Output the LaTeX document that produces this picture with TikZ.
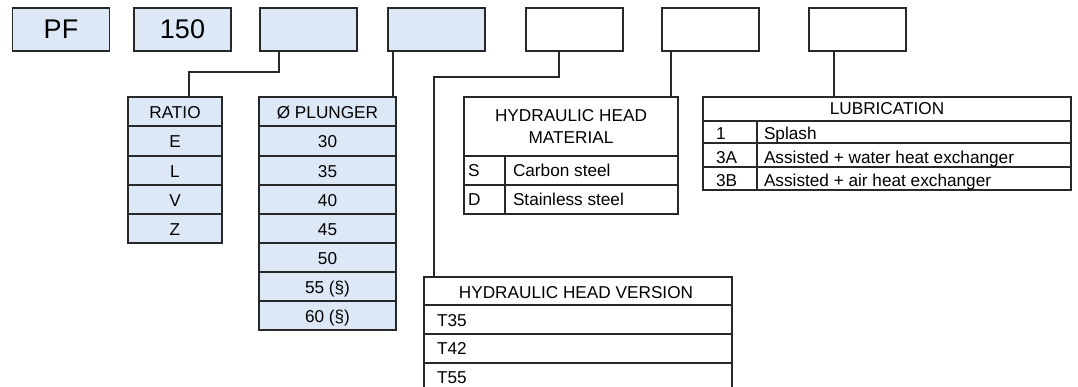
\documentclass[tikz,border=0pt]{standalone}
\usepackage{fontspec}
\setmainfont{Liberation Sans}
\definecolor{lb}{RGB}{221,232,246}
\definecolor{ln}{RGB}{40,40,40}
\begin{document}
\begin{tikzpicture}[x=1pt,y=-1pt,
  font=\fontsize{17.2}{20}\selectfont,
  every node/.style={inner sep=0pt, outer sep=0pt},
  frame/.style={draw=ln, line width=1.1pt},
  topbox/.style={frame, minimum width=97pt, minimum height=43pt, font=\fontsize{27}{31}\selectfont},
  conn/.style={draw=ln, line width=1.1pt},
  txt/.style={anchor=base},
  txtl/.style={anchor=base west}]
\useasboundingbox (0,0) rectangle (1078,387);

% top code boxes
\node[topbox, fill=lb] (b1) at (61,29.5) {PF};
\node[topbox, fill=lb] (b2) at (182.5,29.5) {150};
\node[topbox, fill=lb] (b3) at (308.5,29.5) {};
\node[topbox, fill=lb] (b4) at (436.5,29.5) {};
\node[topbox] (b5) at (574.5,29.5) {};
\node[topbox] (b6) at (710.5,29.5) {};
\node[topbox] (b7) at (857.5,29.5) {};

% RATIO table
\draw[frame, fill=lb] (128,97) rectangle (222,243);
\foreach \y in {126,156,185,214} \draw[frame] (128,\y) -- (222,\y);
\node[txt] (ratio) at (175,119) {RATIO};
\node[txt] (rE) at (175,148) {E};
\node[txt] (rL) at (175,177.5) {L};
\node[txt] (rV) at (175,206.5) {V};
\node[txt] (rZ) at (175,235.5) {Z};
\coordinate (ratiotop) at (189,97);

% PLUNGER table
\draw[frame, fill=lb] (259,97) rectangle (396,330);
\foreach \y in {126,156,185,214,243,272,301} \draw[frame] (259,\y) -- (396,\y);
\node[txt] (plunger) at (327.5,119) {Ø PLUNGER};
\node[txt] (p30) at (327.5,148) {30};
\node[txt] (p35) at (327.5,177.5) {35};
\node[txt] (p40) at (327.5,206.5) {40};
\node[txt] (p45) at (327.5,235.5) {45};
\node[txt] (p50) at (327.5,264.5) {50};
\node[txt] (p55) at (327.5,293.5) {55 (§)};
\node[txt] (p60) at (327.5,322.5) {60 (§)};
\coordinate (plungertop) at (393,97);

% MATERIAL table
\draw[frame] (464,97) rectangle (678,214);
\draw[frame] (464,156) -- (678,156);
\draw[frame] (464,185) -- (678,185);
\draw[frame] (505,156) -- (505,214);
\node[txt] (mat1) at (571,122) {HYDRAULIC HEAD};
\node[txt] (mat2) at (571,144) {MATERIAL};
\node[txtl] (mS) at (468,177) {S};
\node[txtl] (mSd) at (513,177) {Carbon steel};
\node[txtl] (mD) at (468,206) {D};
\node[txtl] (mDd) at (513,206) {Stainless steel};
\coordinate (mattop) at (671,97);

% LUBRICATION table
\draw[frame] (703,97) rectangle (1071,190);
\foreach \y in {121,143,167} \draw[frame] (703,\y) -- (1071,\y);
\draw[frame] (757,121) -- (757,190);
\node[txt] (lub) at (887,115) {LUBRICATION};
\node[txtl] (l1) at (716,140) {1};
\node[txtl] (l1d) at (764,140) {Splash};
\node[txtl] (l3a) at (716,164) {3A};
\node[txtl] (l3ad) at (764,164) {Assisted + water heat exchanger};
\node[txtl] (l3b) at (716,187) {3B};
\node[txtl] (l3bd) at (764,187) {Assisted + air heat exchanger};
\coordinate (lubtop) at (834,97);

% VERSION table
\draw[frame] (424,395) -- (424,277) -- (732,277) -- (732,395);
\foreach \y in {305,334,363} \draw[frame] (424,\y) -- (732,\y);
\node[txt] (ver) at (576,298) {HYDRAULIC HEAD VERSION};
\node[txtl] (t35) at (437,326) {T35};
\node[txtl] (t42) at (437,354) {T42};
\node[txtl] (t55) at (437,383) {T55};
\coordinate (vertop) at (434,277);

% connectors
\draw[conn] (b3.south -| 279,0) -- (279,72) -| (ratiotop);
\draw[conn] (b4.south -| plungertop) -- (plungertop);
\draw[conn] (b5.south -| 559,0) -- (559,77) -| (vertop);
\draw[conn] (b6.south -| mattop) -- (mattop);
\draw[conn] (b7.south -| lubtop) -- (lubtop);
\end{tikzpicture}
\end{document}
